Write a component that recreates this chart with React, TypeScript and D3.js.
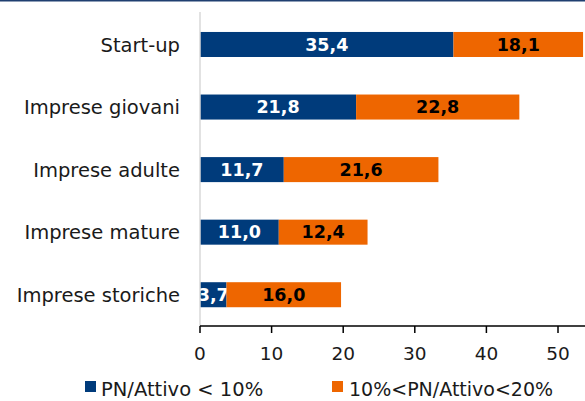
import React from "react";
import * as d3 from "d3";

const categories = ["Start-up", "Imprese giovani", "Imprese adulte", "Imprese mature", "Imprese storiche"];
const below10 = [35.4, 21.8, 11.7, 11.0, 3.7];
const from10to20 = [18.1, 22.8, 21.6, 12.4, 16.0];
const seriesNames = ["PN/Attivo < 10%", "10%<PN/Attivo<20%"];
const xTicks = [0, 10, 20, 30, 40, 50];

const W = 585;
const H = 401;
const BLUE = "#003B7B";
const ORANGE = "#EE6600";
const FONT = "'DejaVu Sans', sans-serif";

const fmt = (v: number) => v.toFixed(1).replace(".", ",");

export default function App() {
  const x = d3.scaleLinear().domain([0, 55]).range([200, 200 + 55 * 7.16]);
  const y = d3
    .scaleBand<string>()
    .domain(categories)
    .range([13.2, 326])
    .paddingInner(0.6)
    .paddingOuter(0.3);
  const bw = y.bandwidth();
  const axisY = 326;

  return (
    <svg
      width={W}
      height={H}
      style={{ position: "absolute", left: 0, top: 0, background: "#fff" }}
      fontFamily={FONT}
    >
      <defs>
        <clipPath id="plot">
          <rect x={200} y={0} width={W - 200} height={axisY} />
        </clipPath>
      </defs>
      <line x1={0} x2={W} y1={0.75} y2={0.75} stroke="#1F3F70" strokeWidth={1.5} />

      {/* category labels */}
      {categories.map((c) => (
        <text
          key={c}
          x={180}
          y={(y(c) ?? 0) + bw / 2}
          dy="0.36em"
          textAnchor="end"
          fontSize={19.5}
          fill="#1a1a1a"
        >
          {c}
        </text>
      ))}

      <g clipPath="url(#plot)">
        {categories.map((c, i) => {
          const y0 = y(c) ?? 0;
          const a = below10[i];
          const b = from10to20[i];
          return (
            <g key={c}>
              <rect x={x(0)} y={y0} width={x(a) - x(0)} height={bw} fill={BLUE} />
              <text
                x={(x(0) + x(a)) / 2}
                y={y0 + bw / 2}
                dy="0.36em"
                textAnchor="middle"
                fontSize={17.5}
                fontWeight="bold"
                fill="#fff"
              >
                {fmt(a)}
              </text>
              <rect x={x(a)} y={y0} width={x(a + b) - x(a)} height={bw} fill={ORANGE} />
              <text
                x={(x(a) + x(a + b)) / 2}
                y={y0 + bw / 2}
                dy="0.36em"
                textAnchor="middle"
                fontSize={17.5}
                fontWeight="bold"
                fill="#000"
              >
                {fmt(b)}
              </text>
            </g>
          );
        })}
      </g>

      {/* vertical axis */}
      <line x1={200} x2={200} y1={12} y2={axisY} stroke="#d9d9d9" strokeWidth={1.5} />

      {/* x axis */}
      <line x1={200} x2={W} y1={axisY} y2={axisY} stroke="#000" strokeWidth={1.5} />
      {xTicks.map((t) => (
        <g key={t}>
          <line x1={x(t)} x2={x(t)} y1={axisY} y2={axisY + 7} stroke="#000" strokeWidth={1.5} />
          <text x={x(t)} y={360} textAnchor="middle" fontSize={18.5} fill="#1a1a1a">
            {t}
          </text>
        </g>
      ))}

      {/* legend */}
      <rect x={85} y={381} width={11} height={11} fill={BLUE} />
      <text x={101} y={396} fontSize={19.5} fill="#1a1a1a">
        {seriesNames[0]}
      </text>
      <rect x={332} y={381} width={11} height={11} fill={ORANGE} />
      <text x={349} y={396} fontSize={19} fill="#1a1a1a">
        {seriesNames[1]}
      </text>
    </svg>
  );
}
